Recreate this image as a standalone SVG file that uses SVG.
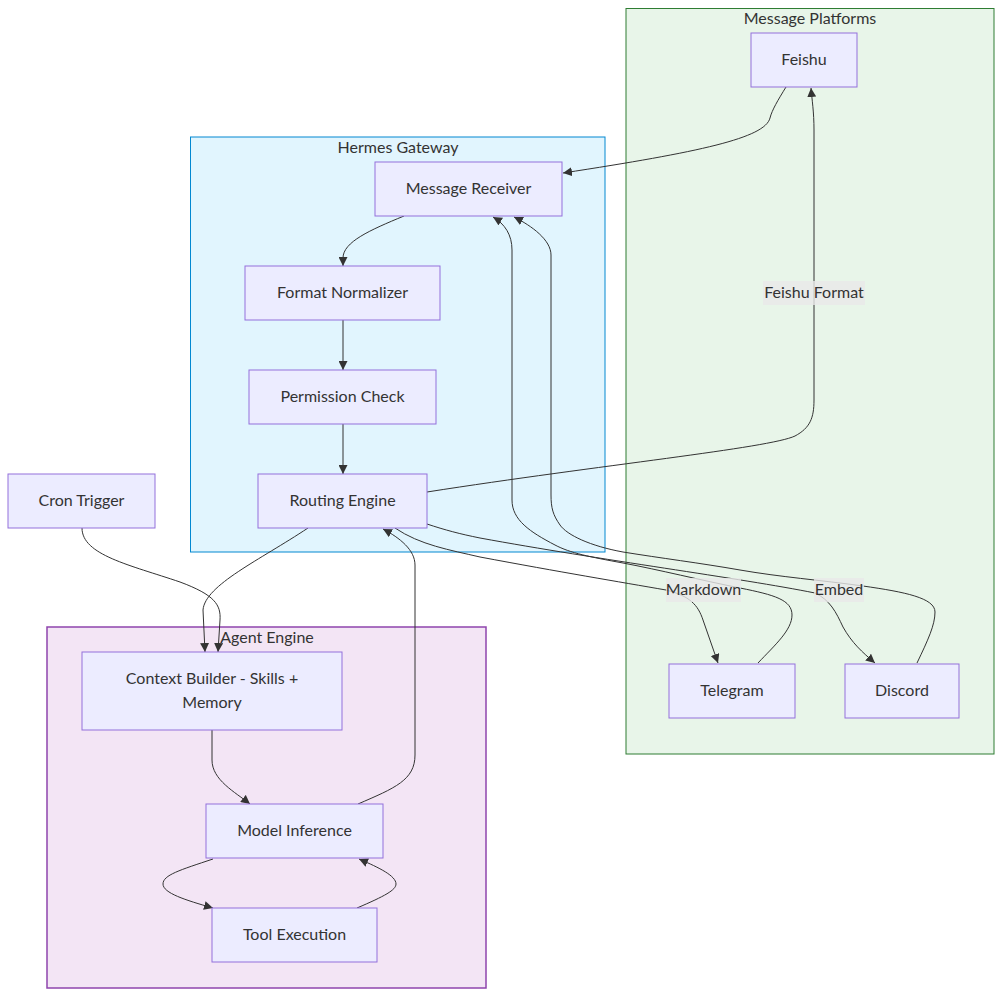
<svg xmlns="http://www.w3.org/2000/svg" width="1002" height="996" viewBox="0 0 1002 996">
<style>
  .cluster-green { fill:#e8f5e9; stroke:#2e7d32; stroke-width:1; }
  .cluster-blue { fill:#e1f5fe; stroke:#0288d1; stroke-width:1; }
  .cluster-purple { fill:#f3e5f5; stroke:#8e44ad; stroke-width:1.5; }
  .ctitle { font-family:Lato, "Liberation Sans", sans-serif; font-size:16px; fill:#333; text-anchor:middle; }
  .node rect { fill:#ECECFF; stroke:#9370DB; stroke-width:1; }
  .node text { font-family:Lato, "Liberation Sans", sans-serif; font-size:16px; fill:#333; text-anchor:middle; dominant-baseline:central; }
  .edge { fill:none; stroke:#333; stroke-width:1; marker-end:url(#arr); }
  .lblbg { fill:#e8e8e8; opacity:0.8; }
  .lbl { font-family:Lato, "Liberation Sans", sans-serif; font-size:16px; fill:#333; text-anchor:middle; dominant-baseline:central; }
</style>
<defs>
  <marker id="arr" viewBox="0 0 10 10" refX="10" refY="5" markerWidth="9" markerHeight="9" orient="auto" markerUnits="userSpaceOnUse">
    <path d="M0,0 L10,5 L0,10 z" fill="#333"/>
  </marker>
</defs>
<rect width="1002" height="996" fill="#ffffff"/>

<g id="clusters">
  <g id="cluster-platforms">
    <rect class="cluster-green" x="626" y="8.5" width="368" height="745.5"/>
    <text class="ctitle" x="810" y="24">Message Platforms</text>
  </g>
  <g id="cluster-gateway">
    <rect class="cluster-blue" x="190.5" y="137" width="414.5" height="415"/>
    <text class="ctitle" x="398" y="153">Hermes Gateway</text>
  </g>
  <g id="cluster-agent">
    <rect class="cluster-purple" x="47" y="627" width="439" height="361"/>
    <text class="ctitle" x="267" y="643">Agent Engine</text>
  </g>
</g>

<g id="connectors">
  <path class="edge" d="M786,87 C778,100 772,110 770,118 C765,138 700,152 563,173"/>
  <path class="edge" d="M404,216 C370,230 343,242 343,258 L343,266"/>
  <path class="edge" d="M343,320 L343,370"/>
  <path class="edge" d="M343,424 L343,474"/>
  <path class="edge" d="M427,492 C600,465 770,448 795,436 C810,428 814,418 814,400 L814,130 C814,112 812,100 811,88"/>
  <path class="edge" d="M395,528 C420,545 450,550 480,557 C560,572 620,582 666,590 C690,596 698,605 703,620 L718,663"/>
  <path class="edge" d="M427,524 C445,530 460,534 480,538 C600,560 740,578 815,593 C830,600 836,612 843,627 C852,643 862,652 875,663"/>
  <path class="edge" d="M758,663 C775,645 792,630 792,615 C792,600 775,595 740,588 C700,580 660,570 623,563 C590,557 570,553 555,545 C530,532 512,520 512,500 L512,250 C512,235 505,224 493,217"/>
  <path class="edge" d="M917,663 C928,640 935,625 935,612 C935,598 905,592 863,586 C820,580 780,577 740,570 C700,563 660,558 623,552 C590,546 567,535 560,525 C553,515 551,508 551,495 L551,255 C551,240 532,226 514,217"/>
  <path class="edge" d="M308,528 C260,560 205,585 203,610 L205,652"/>
  <path class="edge" d="M82,528 C82,555 130,565 180,582 C215,595 221,605 220,620 L218,652"/>
  <path class="edge" d="M212,730 L212,760 C212,780 235,792 250,804"/>
  <path class="edge" d="M358,804 C395,788 415,780 415,755 L415,565 C415,550 400,538 383,529"/>
  <path class="edge" d="M213,859 C180,870 163,875 163,884 C163,893 185,900 213,908"/>
  <path class="edge" d="M357,908 C385,896 396,890 396,884 C396,876 380,868 359,859"/>
</g>

<g id="edge-labels">
  <g id="label-feishu-format">
    <rect class="lblbg" x="763" y="281" width="102" height="24"/>
    <text class="lbl" x="814" y="291.5">Feishu Format</text>
  </g>
  <g id="label-markdown">
    <rect class="lblbg" x="666" y="578" width="75" height="24"/>
    <text class="lbl" x="703.5" y="588.5">Markdown</text>
  </g>
  <g id="label-embed">
    <rect class="lblbg" x="814" y="578" width="50" height="24"/>
    <text class="lbl" x="839" y="588.5">Embed</text>
  </g>
</g>

<g id="node-feishu" class="node"><rect x="751" y="33" width="106" height="54"/><text x="804" y="58">Feishu</text></g>
<g id="node-receiver" class="node"><rect x="375" y="162" width="187" height="54"/><text x="468.5" y="187">Message Receiver</text></g>
<g id="node-normalizer" class="node"><rect x="245" y="266" width="195" height="54"/><text x="342.5" y="291">Format Normalizer</text></g>
<g id="node-permission" class="node"><rect x="249" y="370" width="187" height="54"/><text x="342.5" y="395">Permission Check</text></g>
<g id="node-routing" class="node"><rect x="258" y="474" width="169" height="54"/><text x="342.5" y="499">Routing Engine</text></g>
<g id="node-cron" class="node"><rect x="8" y="474" width="147" height="54"/><text x="81.5" y="499">Cron Trigger</text></g>
<g id="node-context" class="node"><rect x="82" y="652" width="260" height="78"/><text x="212" y="677">Context Builder - Skills +</text><text x="212" y="701">Memory</text></g>
<g id="node-model" class="node"><rect x="206" y="804" width="177" height="54"/><text x="294.5" y="829">Model Inference</text></g>
<g id="node-tool" class="node"><rect x="212" y="908" width="165" height="54"/><text x="294.5" y="933">Tool Execution</text></g>
<g id="node-telegram" class="node"><rect x="669" y="664" width="126" height="54"/><text x="732" y="689">Telegram</text></g>
<g id="node-discord" class="node"><rect x="845" y="664" width="114" height="54"/><text x="902" y="689">Discord</text></g>
</svg>
